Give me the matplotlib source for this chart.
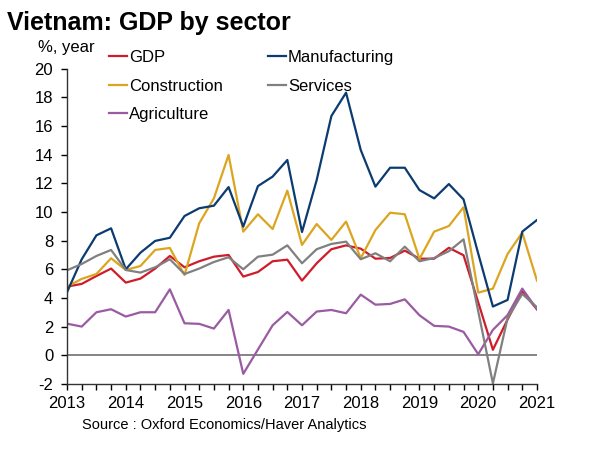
import numpy as np
import matplotlib
matplotlib.use('Agg')
import matplotlib.pyplot as plt
from matplotlib.ticker import MultipleLocator

plt.rcParams['font.family'] = ['Liberation Sans', 'DejaVu Sans']
plt.rcParams['axes.unicode_minus'] = False

# quarterly, 2013Q1 .. 2021Q1
quarters = 2013 + 0.25*np.arange(33)

gdp = [4.79, 4.98, 5.53, 6.05, 5.07, 5.35, 6.05, 6.93, 6.14, 6.56, 6.88, 7.0,
       5.49, 5.81, 6.56, 6.67, 5.21, 6.42, 7.4, 7.67, 7.44, 6.74, 6.79, 7.3,
       6.74, 6.74, 7.5, 6.98, 3.7, 0.38, 2.5, 4.45, 3.2]
manufacturing = [4.4, 6.7, 8.37, 8.86, 6.0, 7.16, 7.98, 8.2, 9.72, 10.26, 10.44, 11.74,
                 8.98, 11.81, 12.47, 13.63, 8.6, 12.23, 16.7, 18.33, 14.33, 11.77, 13.09, 13.09,
                 11.53, 10.95, 11.95, 10.88, 7.1, 3.4, 3.86, 8.63, 9.44]
construction = [4.79, 5.33, 5.67, 6.77, 5.95, 6.23, 7.35, 7.49, 5.6, 9.21, 10.95, 13.98,
                8.63, 9.84, 8.81, 11.49, 7.7, 9.16, 8.05, 9.33, 6.77, 8.74, 9.95, 9.84,
                6.72, 8.63, 9.02, 10.33, 4.37, 4.65, 7.07, 8.56, 5.21]
services = [5.93, 6.37, 6.93, 7.35, 5.95, 5.77, 6.14, 6.7, 5.67, 6.05, 6.51, 6.84,
            6.0, 6.88, 7.02, 7.67, 6.42, 7.4, 7.77, 7.93, 6.7, 7.12, 6.56, 7.58,
            6.56, 6.79, 7.26, 8.09, 3.07, -1.97, 2.6, 4.28, 3.35]
agriculture = [2.2, 2.0, 3.0, 3.21, 2.7, 3.0, 3.0, 4.6, 2.23, 2.19, 1.86, 3.16,
               -1.3, 0.4, 2.09, 3.02, 2.09, 3.05, 3.16, 2.93, 4.23, 3.53, 3.58, 3.9,
               2.79, 2.05, 2.0, 1.63, 0.07, 1.77, 2.8, 4.65, 3.21]

series = [('GDP', gdp, '#D01C2A'),
          ('Construction', construction, '#DBA520'),
          ('Agriculture', agriculture, '#9A5BA2'),
          ('Manufacturing', manufacturing, '#0B3B70'),
          ('Services', services, '#808080')]

fig = plt.figure(figsize=(6.04, 4.71), dpi=100)
ax = fig.add_axes([0.111, 0.185, 0.778, 0.669])

ax.axhline(0, color='#707070', lw=1.2, zorder=1)
for name, vals, col in series:
    ax.plot(quarters, vals, color=col, lw=1.6, label=name, zorder=2)

ax.set_xlim(2013, 2021)
ax.set_ylim(-2, 20)
ax.xaxis.set_major_locator(MultipleLocator(1))
ax.xaxis.set_minor_locator(MultipleLocator(0.25))
ax.yaxis.set_major_locator(MultipleLocator(2))
ax.xaxis.set_major_formatter(plt.FuncFormatter(lambda v, p: f'{int(v)}'))
ax.tick_params(axis='x', which='both', direction='out', length=4, width=1, labelsize=12, pad=5)
ax.tick_params(axis='y', direction='out', length=4, width=1, labelsize=12, pad=6)
for s in ['top', 'right']:
    ax.spines[s].set_visible(False)
for s in ['left', 'bottom']:
    ax.spines[s].set_linewidth(1.0)
    ax.spines[s].set_color('#333333')

ax.legend(loc='upper left', bbox_to_anchor=(0.075, 1.08), ncol=2, frameon=False,
          fontsize=12, handlelength=1.1, handletextpad=0.1, columnspacing=2.7,
          labelspacing=0.8, borderaxespad=0)

fig.text(0.012, 0.952, 'Vietnam: GDP by sector', fontsize=18, fontweight='bold', va='center')
fig.text(0.063, 0.899, '%, year', fontsize=12, va='center')
fig.text(0.136, 0.098, 'Source : Oxford Economics/Haver Analytics', fontsize=10.5, va='center')

fig.savefig('out.png', dpi=100)
